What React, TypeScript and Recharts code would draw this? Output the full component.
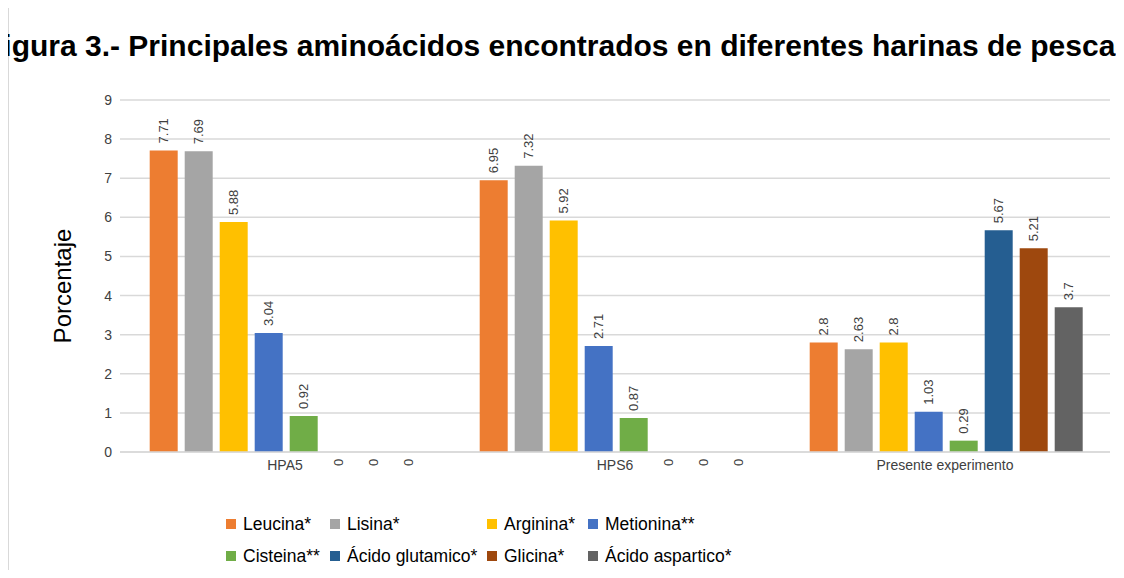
import { Bar, BarChart, CartesianGrid, LabelList, XAxis, YAxis } from "recharts";

const categories = ["HPA5", "HPS6", "Presente experimento"];

const seriesNames = [
  "Leucina*",
  "Lisina*",
  "Arginina*",
  "Metionina**",
  "Cisteina**",
  "Ácido glutamico*",
  "Glicina*",
  "Ácido aspartico*",
];

const leucina = [7.71, 6.95, 2.8];
const lisina = [7.69, 7.32, 2.63];
const arginina = [5.88, 5.92, 2.8];
const metionina = [3.04, 2.71, 1.03];
const cisteina = [0.92, 0.87, 0.29];
const glutamico = [0, 0, 5.67];
const glicina = [0, 0, 5.21];
const aspartico = [0, 0, 3.7];

const seriesValues = [leucina, lisina, arginina, metionina, cisteina, glutamico, glicina, aspartico];

const colors = ["#ED7D31", "#A5A5A5", "#FFC000", "#4472C4", "#70AD47", "#255E91", "#9E480E", "#636363"];

const yTicks = [0, 1, 2, 3, 4, 5, 6, 7, 8, 9];

const data = categories.map((name, i) => {
  const row: Record<string, string | number> = { name };
  seriesNames.forEach((s, k) => {
    row[`s${k}`] = seriesValues[k][i];
  });
  return row;
});

// legend grid: column x and row y positions
const legendCols = [226, 330, 487, 588];
const legendRows = [524, 556];

function renderBarLabel(props: any) {
  const { x, y, width, value } = props;
  const cx = Number(x) + Number(width) / 2;
  // excel puts the zero labels just under the axis
  const y0 = Number(value) === 0 ? Number(y) + 14 : Number(y) - 7;
  return (
    <text
      x={cx}
      y={y0}
      transform={`rotate(-90 ${cx} ${y0})`}
      dy="0.35em"
      textAnchor="start"
      fontSize={13}
      fill="#404040"
    >
      {value}
    </text>
  );
}

export default function App() {
  return (
    <div
      style={{
        position: "relative",
        width: 1124,
        height: 578,
        margin: -8,
        overflow: "hidden",
        background: "#fff",
        fontFamily: "'Liberation Sans', Arial, sans-serif",
      }}
    >
      <div
        style={{
          position: "absolute",
          left: 7,
          top: 4,
          width: 1200,
          height: 700,
          border: "2px solid #d9d9d9",
        }}
      />
      <div style={{ position: "absolute", left: 0, top: 0 }}>
        <BarChart
          width={1124}
          height={578}
          data={data}
          margin={{ top: 100, right: 14, left: 0, bottom: 96 }}
          barCategoryGap="9%"
          barGap={7}
        >
          <text
            x={-15}
            y={56}
            fontSize={30}
            fontWeight="bold"
            fill="#000"
            fontFamily="'Liberation Sans', Arial, sans-serif"
          >
            Figura 3.- Principales aminoácidos encontrados en diferentes harinas de pescado
          </text>
          <CartesianGrid vertical={false} stroke="#d9d9d9" strokeWidth={1.5} />
          <XAxis
            dataKey="name"
            height={30}
            axisLine={{ stroke: "#d9d9d9", strokeWidth: 1.5 }}
            tickLine={false}
            tick={{ fill: "#404040", fontSize: 14 }}
            interval={0}
          />
          <YAxis
            width={120}
            domain={[0, 9]}
            ticks={yTicks}
            axisLine={false}
            tickLine={false}
            tick={{ fill: "#404040", fontSize: 14 }}
            label={{
              content: () => (
                <text
                  x={62}
                  y={286}
                  transform="rotate(-90 62 286)"
                  textAnchor="middle"
                  dominantBaseline="central"
                  fontSize={24}
                  fill="#000"
                >
                  Porcentaje
                </text>
              ),
            }}
          />
          {seriesNames.map((s, k) => (
            <Bar
              key={s}
              dataKey={`s${k}`}
              name={s}
              fill={colors[k]}
              minPointSize={0.01}
              isAnimationActive={false}
            >
              <LabelList dataKey={`s${k}`} content={renderBarLabel} />
            </Bar>
          ))}
        </BarChart>
      </div>
      {seriesNames.map((s, k) => (
        <div
          key={s}
          style={{
            position: "absolute",
            left: legendCols[k % 4],
            top: legendRows[Math.floor(k / 4)] - 12,
            height: 24,
            display: "flex",
            alignItems: "center",
            whiteSpace: "nowrap",
            fontSize: 17.5,
            color: "#000",
          }}
        >
          <span
            style={{
              display: "inline-block",
              width: 10,
              height: 10,
              background: colors[k],
              marginRight: 7,
            }}
          />
          {s}
        </div>
      ))}
    </div>
  );
}
